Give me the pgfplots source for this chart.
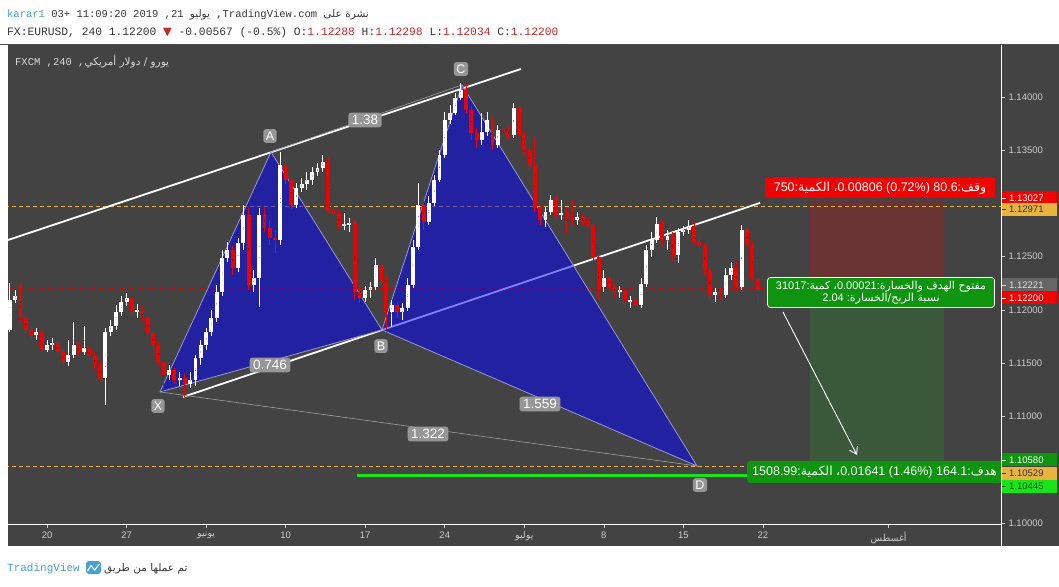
\documentclass[border=0pt]{standalone}
\usepackage{fontspec}
\usepackage{pgfplots}
\pgfplotsset{compat=1.18}
\usepackage{pgfplotstable}
\usetikzlibrary{arrows.meta}
\setmainfont{Liberation Sans}
\newfontfamily\arabicfont[Script=Arabic]{DejaVu Sans}
\newfontfamily\monofont{Liberation Mono}
\newfontfamily\dejavu{DejaVu Sans}
\TeXXeTstate=1
\newcommand\ar[1]{{\arabicfont #1}}
\newcommand\arR[1]{{\arabicfont\beginR #1\endR}}

\definecolor{bg}{RGB}{67,67,67}
\definecolor{axtxt}{RGB}{205,205,205}
\definecolor{patblue}{RGB}{0,0,255}
\definecolor{patedge}{RGB}{150,150,215}
\definecolor{lblgray}{RGB}{150,150,150}
\definecolor{goldline}{RGB}{232,180,62}
\definecolor{tvred}{RGB}{242,0,0}
\definecolor{candred}{RGB}{240,0,0}
\definecolor{tvgreen}{RGB}{14,148,14}
\definecolor{brightgreen}{RGB}{24,228,24}
\definecolor{stopzone}{RGB}{106,52,52}
\definecolor{profitzone}{RGB}{58,88,58}
\definecolor{hdrtxt}{RGB}{55,55,55}
\definecolor{hdrred}{RGB}{200,40,40}
\definecolor{tvblue}{RGB}{70,160,215}

\pgfplotstableread{
j o h l c
0 1.11812 1.12254 1.11793 1.12094
1 1.12094 1.12188 1.12066 1.12132
2 1.12132 1.12254 1.11887 1.11925
3 1.11925 1.11953 1.11774 1.11812
4 1.11812 1.11850 1.11737 1.11765
5 1.11765 1.11831 1.11718 1.11793
6 1.11793 1.11812 1.11586 1.11624
7 1.11624 1.11718 1.11605 1.11671
8 1.11671 1.11737 1.11624 1.11690
9 1.11690 1.11718 1.11568 1.11605
10 1.11605 1.11633 1.11465 1.11512
11 1.11512 1.11718 1.11475 1.11577
12 1.11577 1.11887 1.11549 1.11671
13 1.11671 1.11699 1.11568 1.11605
14 1.11605 1.11850 1.11577 1.11643
15 1.11643 1.11671 1.11512 1.11568
16 1.11568 1.11605 1.11437 1.11484
17 1.11484 1.11512 1.11324 1.11362
18 1.11362 1.11831 1.11108 1.11793
19 1.11793 1.11906 1.11756 1.11850
20 1.11850 1.12047 1.11812 1.11981
21 1.11981 1.12132 1.11944 1.12075
22 1.12075 1.12160 1.12038 1.12113
23 1.12113 1.12132 1.11944 1.11981
24 1.11981 1.12056 1.11925 1.12000
25 1.12000 1.12038 1.11887 1.11925
26 1.11925 1.11953 1.11746 1.11784
27 1.11784 1.11812 1.11624 1.11671
28 1.11671 1.11699 1.11475 1.11512
29 1.11512 1.11531 1.11230 1.11390
30 1.11390 1.11484 1.11343 1.11437
31 1.11437 1.11456 1.11305 1.11343
32 1.11343 1.11418 1.11287 1.11362
33 1.11362 1.11399 1.11183 1.11305
34 1.11305 1.11418 1.11268 1.11343
35 1.11343 1.11577 1.11287 1.11549
36 1.11549 1.11718 1.11484 1.11671
37 1.11671 1.11831 1.11624 1.11793
38 1.11793 1.12000 1.11756 1.11925
39 1.11925 1.12235 1.11887 1.12169
40 1.12169 1.12563 1.12132 1.12488
41 1.12488 1.12638 1.12450 1.12563
42 1.12563 1.12601 1.12329 1.12394
43 1.12394 1.12676 1.12357 1.12629
44 1.12629 1.12986 1.12563 1.12892
45 1.12892 1.12967 1.12188 1.12235
46 1.12235 1.12376 1.12169 1.12301
47 1.12301 1.12958 1.12028 1.12892
48 1.12892 1.12958 1.12732 1.12770
49 1.12770 1.12845 1.12610 1.12676
50 1.12676 1.12751 1.12535 1.12657
51 1.12657 1.13483 1.12610 1.13361
52 1.13361 1.13436 1.13183 1.13221
53 1.13221 1.13240 1.12948 1.12986
54 1.12986 1.13193 1.12958 1.13146
55 1.13146 1.13240 1.13108 1.13183
56 1.13183 1.13296 1.13127 1.13221
57 1.13221 1.13342 1.13174 1.13296
58 1.13296 1.13380 1.13259 1.13333
59 1.13333 1.13455 1.13296 1.13389
60 1.13389 1.13427 1.12901 1.12939
61 1.12939 1.12986 1.12864 1.12901
62 1.12901 1.12939 1.12751 1.12789
63 1.12789 1.12911 1.12751 1.12807
64 1.12807 1.12864 1.12732 1.12817
65 1.12817 1.12845 1.12094 1.12169
66 1.12169 1.12235 1.12066 1.12113
67 1.12113 1.12226 1.12075 1.12188
68 1.12188 1.12263 1.12113 1.12216
69 1.12216 1.12488 1.12188 1.12422
70 1.12422 1.12450 1.12188 1.12263
71 1.12263 1.12329 1.11812 1.11981
72 1.11981 1.12094 1.11840 1.12047
73 1.12047 1.12075 1.11925 1.11981
74 1.11981 1.12066 1.11906 1.12019
75 1.12019 1.12301 1.11991 1.12235
76 1.12235 1.12657 1.12207 1.12591
77 1.12591 1.13193 1.12563 1.12986
78 1.12986 1.13061 1.12751 1.12826
79 1.12826 1.13071 1.12798 1.13005
80 1.13005 1.13268 1.12977 1.13221
81 1.13221 1.13502 1.13202 1.13455
82 1.13455 1.13859 1.13427 1.13784
83 1.13784 1.13925 1.13746 1.13850
84 1.13850 1.14038 1.13831 1.13991
85 1.13991 1.14131 1.13972 1.14066
86 1.14066 1.14122 1.13850 1.13878
87 1.13878 1.13916 1.13596 1.13662
88 1.13662 1.13709 1.13521 1.13596
89 1.13596 1.13850 1.13549 1.13671
90 1.13671 1.13859 1.13634 1.13784
91 1.13784 1.13803 1.13502 1.13549
92 1.13549 1.13737 1.13521 1.13690
93 1.13690 1.13728 1.13634 1.13671
94 1.13671 1.13728 1.13605 1.13643
95 1.13643 1.13944 1.13615 1.13897
96 1.13897 1.13925 1.13596 1.13643
97 1.13643 1.13671 1.13455 1.13502
98 1.13502 1.13540 1.13315 1.13352
99 1.13352 1.13624 1.12920 1.12958
100 1.12958 1.12986 1.12798 1.12845
101 1.12845 1.12967 1.12779 1.12920
102 1.12920 1.13080 1.12892 1.13033
103 1.13033 1.13080 1.12864 1.12892
104 1.12892 1.13033 1.12845 1.12911
105 1.12911 1.12958 1.12723 1.12864
106 1.12864 1.13033 1.12789 1.12845
107 1.12845 1.12920 1.12798 1.12873
108 1.12873 1.12901 1.12789 1.12826
109 1.12826 1.12864 1.12770 1.12798
110 1.12798 1.12826 1.12469 1.12497
111 1.12497 1.12516 1.12094 1.12216
112 1.12216 1.12376 1.12169 1.12301
113 1.12301 1.12357 1.12188 1.12216
114 1.12216 1.12254 1.12122 1.12169
115 1.12169 1.12226 1.12113 1.12188
116 1.12188 1.12207 1.11972 1.12075
117 1.12075 1.12132 1.12019 1.12094
118 1.12094 1.12122 1.12000 1.12047
119 1.12047 1.12301 1.12019 1.12244
120 1.12244 1.12610 1.12216 1.12563
121 1.12563 1.12732 1.12497 1.12657
122 1.12657 1.12873 1.12629 1.12807
123 1.12807 1.12845 1.12610 1.12657
124 1.12657 1.12751 1.12563 1.12695
125 1.12695 1.12732 1.12450 1.12516
126 1.12516 1.12770 1.12441 1.12732
127 1.12732 1.12789 1.12695 1.12751
128 1.12751 1.12845 1.12713 1.12789
129 1.12789 1.12826 1.12601 1.12638
130 1.12638 1.12676 1.12563 1.12601
131 1.12601 1.12629 1.12329 1.12376
132 1.12376 1.12403 1.12094 1.12141
133 1.12141 1.12207 1.12075 1.12169
134 1.12169 1.12216 1.12094 1.12141
135 1.12141 1.12394 1.12113 1.12329
136 1.12329 1.12450 1.12282 1.12394
137 1.12394 1.12450 1.12169 1.12216
138 1.12216 1.12798 1.12188 1.12751
139 1.12751 1.12779 1.12582 1.12610
140 1.12610 1.12638 1.12282 1.12288
141 1.12288 1.12298 1.12034 1.12200
}\candles

\newcommand\plabel[4]{%
  \fill[#2] (1002,#1-6.5) rectangle (1057,#1+6.5);
  \draw[#3, line width=0.6pt] (1002,#1) -- (1006,#1);
  \node[anchor=west, text=#3, inner sep=0pt, font=\fontsize{9.5}{10}\selectfont] at (1009,#1) {#4};
}
\pgfplotsset{candle/.style={only marks, mark=*, mark size=0.01pt, mark options={draw=none, fill=none}}}

\begin{document}
\begin{tikzpicture}[x=1pt,y=1pt]
\path[use as bounding box] (0,0) rectangle (1059,586);
\fill[white] (0,0) rectangle (1059,586);
\begin{scope}[shift={(0,586)},y=-1pt]
  \fill[bg] (8,45) rectangle (1059,546);
\end{scope}

\begin{axis}[
  at={(8pt,62pt)}, anchor=south west,
  scale only axis, width=993pt, height=479pt,
  xmin=-0.364, xmax=186.89, ymin=1.09990, ymax=1.14488,
  axis x line*=bottom, axis y line*=right,
  axis line style={draw=white, line width=0.8pt, -},
  xtick pos=bottom, ytick pos=right, yticklabel pos=right,
  tick align=outside, major tick length=4pt,
  tick style={draw=axtxt, line width=0.6pt},
  xtick={7,22,37,52,67,82,97,112,127,142,165.7},
  xticklabels={20,27,\ar{يونيو},10,17,24,\ar{يوليو},8,15,22,\ar{أغسطس}},
  x tick label style={font=\fontsize{9.5}{10}\selectfont, text=axtxt},
  ytick={1.10,1.11,1.115,1.12,1.125,1.135,1.14},
  yticklabels={1.10000,1.11000,1.11500,1.12000,1.12500,1.13500,1.14000},
  y tick label style={font=\fontsize{9.5}{10}\selectfont, text=axtxt},
]
% position tool zones
\addplot[draw=none, fill=stopzone] coordinates {(150.87,1.12221)(176.14,1.12221)(176.14,1.13027)(150.87,1.13027)(150.87,1.12221)};
\addplot[draw=none, fill=profitzone] coordinates {(150.87,1.10580)(176.14,1.10580)(176.14,1.12221)(150.87,1.12221)(150.87,1.10580)};
% horizontal levels
\addplot[goldline, line width=1.6pt, dash pattern=on 4pt off 3pt] coordinates {(-1,1.12971)(190,1.12971)};
\addplot[goldline, line width=1.6pt, dash pattern=on 4pt off 3pt] coordinates {(-1,1.10529)(190,1.10529)};
\addplot[red!85!black, line width=0.7pt, dash pattern=on 1pt off 1.5pt] coordinates {(-1,1.12200)(190,1.12200)};
% channel lines
\addplot[white, line width=1.8pt] coordinates {(-0.364,1.12657)(96.37,1.14263)};
\addplot[white, line width=1.8pt] coordinates {(32.64,1.11183)(141.44,1.13005)};
% thin ratio lines
\addplot[gray!75, line width=0.6pt] coordinates {(28.30,1.11230)(129.56,1.10535)};
\addplot[gray!75, line width=0.6pt] coordinates {(49.23,1.13483)(85.25,1.14113)};
% XABCD triangles
\addplot[fill=patblue, fill opacity=0.5, draw=patedge, line width=0.8pt] coordinates {(28.30,1.11230)(49.23,1.13483)(70.16,1.11812)(28.30,1.11230)};
\addplot[fill=patblue, fill opacity=0.5, draw=patedge, line width=0.8pt] coordinates {(70.16,1.11812)(85.25,1.14113)(129.56,1.10535)(70.16,1.11812)};
% candles: wicks
\addplot[candle, restrict expr to domain={\thisrow{c}-\thisrow{o}}{0:1},
  error bars/.cd, y dir=both, y explicit, error mark=none, error bar style={white, line width=0.9pt}]
  table[x=j, y expr={(\thisrow{h}+\thisrow{l})/2}, y error plus expr={(\thisrow{h}-\thisrow{l})/2}, y error minus expr={(\thisrow{h}-\thisrow{l})/2}] {\candles};
\addplot[candle, restrict expr to domain={\thisrow{c}-\thisrow{o}}{-1:-0.000001},
  error bars/.cd, y dir=both, y explicit, error mark=none, error bar style={candred, line width=0.9pt}]
  table[x=j, y expr={(\thisrow{h}+\thisrow{l})/2}, y error plus expr={(\thisrow{h}-\thisrow{l})/2}, y error minus expr={(\thisrow{h}-\thisrow{l})/2}] {\candles};
% candles: bodies
\addplot[candle, restrict expr to domain={\thisrow{c}-\thisrow{o}}{0:1},
  error bars/.cd, y dir=both, y explicit, error mark=none, error bar style={white, line width=3.9pt}]
  table[x=j, y expr={(\thisrow{o}+\thisrow{c})/2}, y error plus expr={abs(\thisrow{c}-\thisrow{o})/2}, y error minus expr={abs(\thisrow{c}-\thisrow{o})/2}] {\candles};
\addplot[candle, restrict expr to domain={\thisrow{c}-\thisrow{o}}{-1:-0.000001},
  error bars/.cd, y dir=both, y explicit, error mark=none, error bar style={candred, line width=3.9pt}]
  table[x=j, y expr={(\thisrow{o}+\thisrow{c})/2}, y error plus expr={abs(\thisrow{c}-\thisrow{o})/2}, y error minus expr={abs(\thisrow{c}-\thisrow{o})/2}] {\candles};
% target level line and projection arrow
\addplot[brightgreen, line width=2.6pt] coordinates {(65.45,1.10445)(138.99,1.10445)};
\addplot[white, line width=0.9pt, -{Straight Barb[length=7pt,width=9pt]}] coordinates {(145.78,1.11981)(159.73,1.10638)};
\end{axis}

\begin{scope}[shift={(0,586)},y=-1pt]
  \draw[white, line width=0.8pt] (1001,524) -- (1001,546);
  % pattern labels
  \tikzset{lbl/.style={fill=lblgray, text=white, rounded corners=2.5pt, inner xsep=3.5pt, inner ysep=2.5pt, font=\fontsize{13.5}{14}\selectfont}}
  \node[lbl] at (365,120) {1.38};
  \node[lbl] at (270,365) {0.746};
  \node[lbl] at (540,404) {1.559};
  \node[lbl] at (428,434) {1.322};
  \tikzset{plb/.style={fill=lblgray, text=white, rounded corners=2.5pt, inner xsep=2.5pt, inner ysep=2.5pt, font=\fontsize{12.5}{13}\selectfont}}
  \node[plb] at (158,406) {X};
  \node[plb] at (270,136) {A};
  \node[plb] at (381,346) {B};
  \node[plb] at (461,69) {C};
  \node[plb] at (700,485) {D};
  % position labels (right-to-left lines, set in visual order)
  \node[fill=tvred, text=white, inner sep=0pt, minimum width=230pt, minimum height=21pt, font=\fontsize{12.5}{13}\selectfont] at (880,188)
     {750:\ar{الكمية} \ar{،}0.00806 (0.72\%) 80.6:\ar{وقف}};
  \node[fill=tvgreen, draw=white, line width=0.8pt, rounded corners=3pt, text=white, inner sep=0pt, minimum width=227pt, minimum height=30pt, align=center, font=\fontsize{11}{12.5}\selectfont] at (881,292.5)
     {31017:\ar{كمية} \ar{،}0.00021:\arR{مفتوح الهدف والخسارة}\\ 2.04 :\arR{نسبة الربح/الخسارة}};
  \begin{scope}
    \clip (8,45) rectangle (1001,524);
    \node[fill=tvgreen, rounded corners=3pt, text=white, anchor=west, inner xsep=5pt, inner ysep=0pt, minimum height=22pt, font=\fontsize{12.5}{13}\selectfont] at (747,472)
       {1508.99:\ar{الكمية} \ar{،}0.01641 (1.46\%) 164.1:\ar{هدف}};
  \end{scope}
  % price axis labels
  \plabel{198}{tvred}{white}{1.13027}
  \plabel{209.5}{goldline}{black!80}{1.12971}
  \plabel{285}{black!60}{white!88!black}{1.12221}
  \plabel{298}{tvred}{white}{1.12200}
  \plabel{460}{tvgreen}{white}{1.10580}
  \plabel{473.5}{goldline}{black!80}{1.10529}
  \plabel{486.5}{brightgreen}{green!35!black}{1.10445}
  % chart title
  \node[anchor=base west, inner sep=0pt, text=white!85!black, font=\monofont\fontsize{10.5}{12}\selectfont] at (15,66)
     {FXCM ,240 ,\arR{يورو / دولار أمريكي}};
  % header
  \node[anchor=base west, inner sep=0pt, text=hdrtxt, font=\monofont\fontsize{10.5}{12}\selectfont] at (7,18)
     {\textcolor{tvblue}{karar1} 03+ 11:09:20 2019 ,21 \ar{يوليو} ,TradingView.com \arR{نشرة على}};
  \node[anchor=base west, inner sep=0pt, text=hdrtxt, font=\monofont\fontsize{11.3}{12}\selectfont] at (7,36)
     {FX:EURUSD, 240 1.12200 \textcolor{hdrred}{\dejavu ▼} -0.00567 (-0.5\%) O:\textcolor{hdrred}{1.12288} H:\textcolor{hdrred}{1.12298} L:\textcolor{hdrred}{1.12034} C:\textcolor{hdrred}{1.12200}};
  \draw[black!70, line width=0.8pt] (0,44) -- (1059,44);
  % footer
  \node[anchor=base west, inner sep=0pt, text=tvblue, font=\monofont\fontsize{11}{12}\selectfont] at (7,571) {TradingView};
  \fill[tvblue, rounded corners=3pt] (86,561) rectangle (101,574);
  \draw[white, line width=1.2pt] (87.5,571) -- (91,565.5) -- (94.5,570) -- (99.5,564);
  \node[anchor=base west, inner sep=0pt, text=hdrtxt, font=\fontsize{10.5}{12}\selectfont] at (104,571) {\arR{تم عملها من طريق}};
\end{scope}
\end{tikzpicture}
\end{document}
